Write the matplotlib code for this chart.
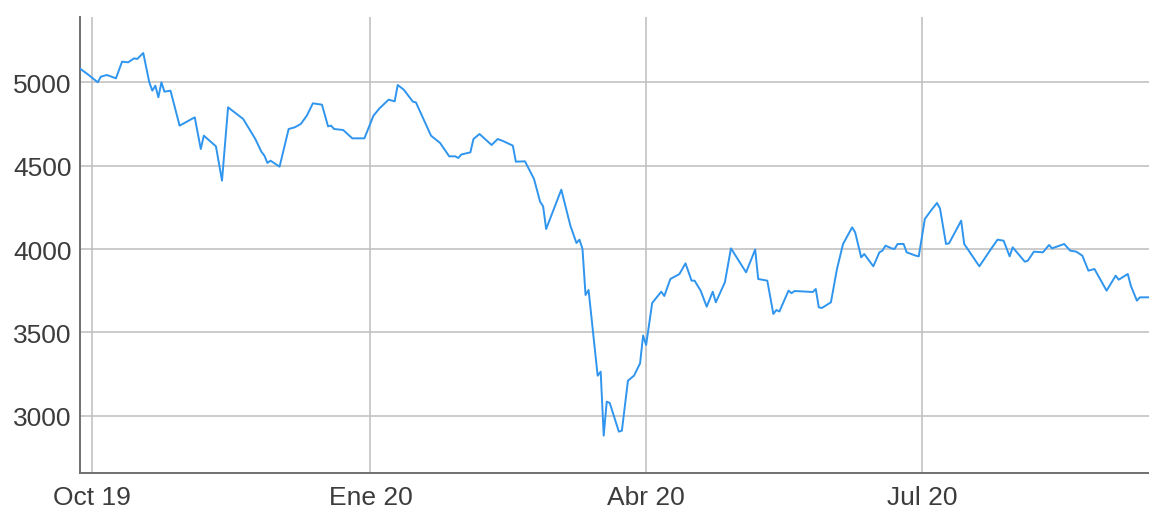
import matplotlib
matplotlib.use('Agg')
import matplotlib.pyplot as plt
import matplotlib.dates as mdates
import numpy as np
import pandas as pd

# 指数走势（从图中读取的拐点）
dates = [
    '2019-09-27', '2019-09-30', '2019-10-03', '2019-10-04', '2019-10-06', '2019-10-09',
    '2019-10-11', '2019-10-13', '2019-10-15', '2019-10-16', '2019-10-18', '2019-10-20',
    '2019-10-21', '2019-10-22', '2019-10-23', '2019-10-24', '2019-10-25', '2019-10-27',
    '2019-10-30', '2019-11-04', '2019-11-06', '2019-11-07', '2019-11-11', '2019-11-13',
    '2019-11-15', '2019-11-20', '2019-11-24', '2019-11-26', '2019-11-27', '2019-11-28',
    '2019-11-29', '2019-12-02', '2019-12-05', '2019-12-07', '2019-12-09', '2019-12-11',
    '2019-12-13', '2019-12-16', '2019-12-18', '2019-12-19', '2019-12-20', '2019-12-23',
    '2019-12-26', '2019-12-30', '2020-01-02', '2020-01-04', '2020-01-07', '2020-01-09',
    '2020-01-10', '2020-01-12', '2020-01-15', '2020-01-16', '2020-01-21', '2020-01-24',
    '2020-01-27', '2020-01-29', '2020-01-30', '2020-01-31', '2020-02-03', '2020-02-04',
    '2020-02-06', '2020-02-10', '2020-02-12', '2020-02-14', '2020-02-17', '2020-02-18',
    '2020-02-21', '2020-02-24', '2020-02-26', '2020-02-27', '2020-02-28', '2020-03-04',
    '2020-03-07', '2020-03-09', '2020-03-10', '2020-03-11', '2020-03-12', '2020-03-13',
    '2020-03-16', '2020-03-17', '2020-03-18', '2020-03-19', '2020-03-20', '2020-03-23',
    '2020-03-24', '2020-03-26', '2020-03-28', '2020-03-30', '2020-03-31', '2020-04-01',
    '2020-04-03', '2020-04-06', '2020-04-07', '2020-04-09', '2020-04-12', '2020-04-14',
    '2020-04-16', '2020-04-17', '2020-04-19', '2020-04-21', '2020-04-23', '2020-04-24',
    '2020-04-27', '2020-04-29', '2020-05-04', '2020-05-07', '2020-05-08', '2020-05-11',
    '2020-05-13', '2020-05-14', '2020-05-15', '2020-05-18', '2020-05-19', '2020-05-20',
    '2020-05-26', '2020-05-27', '2020-05-28', '2020-05-29', '2020-06-01', '2020-06-03',
    '2020-06-05', '2020-06-08', '2020-06-09', '2020-06-11', '2020-06-12', '2020-06-15',
    '2020-06-17', '2020-06-18', '2020-06-19', '2020-06-21', '2020-06-22', '2020-06-23',
    '2020-06-25', '2020-06-26', '2020-06-29', '2020-06-30', '2020-07-02', '2020-07-04',
    '2020-07-06', '2020-07-07', '2020-07-09', '2020-07-10', '2020-07-14', '2020-07-15',
    '2020-07-20', '2020-07-24', '2020-07-26', '2020-07-28', '2020-07-30', '2020-07-31',
    '2020-08-04', '2020-08-05', '2020-08-07', '2020-08-10', '2020-08-12', '2020-08-13',
    '2020-08-17', '2020-08-19', '2020-08-21', '2020-08-23', '2020-08-25', '2020-08-27',
    '2020-08-31', '2020-09-03', '2020-09-04', '2020-09-07', '2020-09-08', '2020-09-10',
    '2020-09-11', '2020-09-14',
]
values = [
    5084, 5044, 5000, 5034, 5044, 5024,
    5124, 5120, 5144, 5140, 5176, 5000,
    4950, 4980, 4910, 5000, 4944, 4950,
    4740, 4790, 4600, 4680, 4616, 4410,
    4850, 4780, 4660, 4584, 4560, 4516,
    4530, 4494, 4720, 4730, 4750, 4800,
    4874, 4866, 4736, 4740, 4720, 4714,
    4664, 4664, 4800, 4844, 4896, 4886,
    4984, 4956, 4884, 4880, 4680, 4636,
    4556, 4556, 4546, 4567, 4580, 4660,
    4690, 4624, 4660, 4646, 4620, 4524,
    4526, 4420, 4284, 4256, 4120, 4356,
    4140, 4036, 4056, 4000, 3724, 3754,
    3240, 3264, 2880, 3084, 3076, 2904,
    2910, 3210, 3240, 3314, 3481, 3424,
    3676, 3744, 3718, 3820, 3850, 3914,
    3810, 3810, 3750, 3654, 3744, 3680,
    3800, 4004, 3860, 3997, 3820, 3810,
    3610, 3634, 3625, 3750, 3735, 3748,
    3742, 3760, 3650, 3646, 3680, 3880,
    4030, 4130, 4100, 3950, 3970, 3896,
    3980, 3990, 4020, 4004, 4000, 4030,
    4030, 3980, 3960, 3956, 4180, 4230,
    4276, 4244, 4030, 4034, 4170, 4030,
    3896, 4004, 4056, 4050, 3956, 4010,
    3924, 3930, 3984, 3980, 4024, 4004,
    4030, 3990, 3984, 3960, 3870, 3880,
    3750, 3840, 3816, 3850, 3780, 3690,
    3710, 3710,
]

tick_dates = ['2019-10-01', '2020-01-01', '2020-04-01', '2020-07-01']
tick_labels = ['Oct 19', 'Ene 20', 'Abr 20', 'Jul 20']
y_ticks = [3000, 3500, 4000, 4500, 5000]

plt.rcParams['font.family'] = ['Liberation Sans', 'DejaVu Sans']

fig = plt.figure(figsize=(11.49, 5.10), dpi=100)
ax = fig.add_axes([80 / 1149, 1 - 474 / 510, 1 - 80 / 1149, (474 - 18) / 510])

x = pd.to_datetime(dates)
ax.plot(x, values, color='#2f95ee', lw=1.4, zorder=3)

# 坐标轴范围
ax.set_xlim(pd.Timestamp('2019-09-27 03:00'), pd.Timestamp('2020-09-14'))
ax.set_ylim(2656, 5392)

ax.set_xticks(pd.to_datetime(tick_dates))
ax.set_xticklabels(tick_labels)
ax.set_yticks(y_ticks)

# 网格和spines
ax.grid(True, color='#bdbdbd', lw=1.1, zorder=0)
ax.spines['top'].set_visible(False)
ax.spines['right'].set_visible(False)
ax.spines['left'].set_color('#707070')
ax.spines['bottom'].set_color('#707070')
ax.spines['left'].set_linewidth(1.4)
ax.spines['bottom'].set_linewidth(1.4)

ax.tick_params(axis='both', length=0, labelsize=19, labelcolor='#3c3c3c')
ax.tick_params(axis='x', pad=9)
ax.tick_params(axis='y', pad=6)

plt.savefig('out.png', dpi=100)
